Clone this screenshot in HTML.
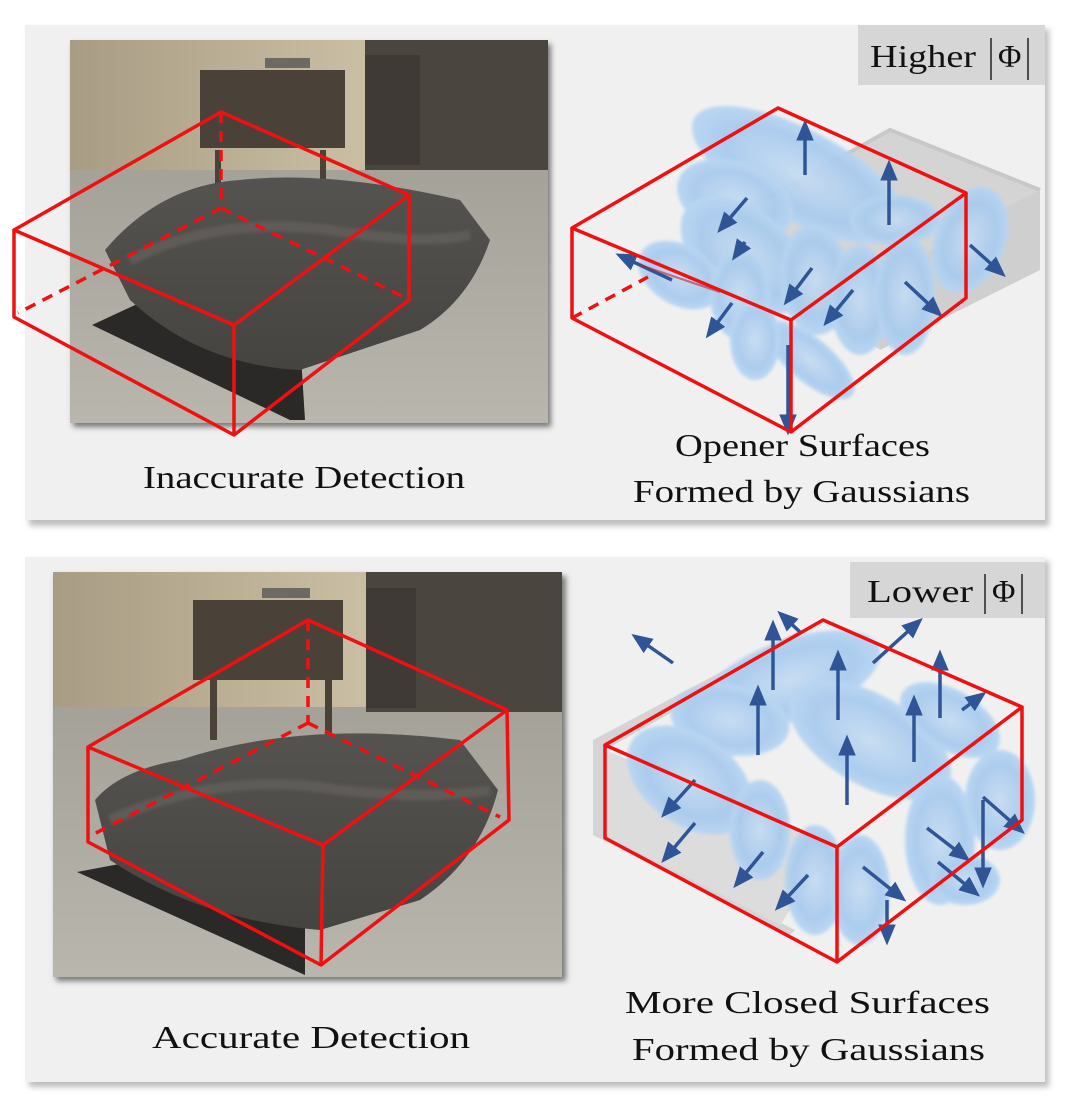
<!DOCTYPE html>
<html><head><meta charset="utf-8"><style>
html,body{margin:0;padding:0;background:#fff;}
svg{display:block;}
text{font-family:"Liberation Serif",serif;fill:#111;}
</style></head><body>
<svg width="1067" height="1104" viewBox="0 0 1067 1104" xmlns="http://www.w3.org/2000/svg">
<defs>
<filter id="sh" x="-5%" y="-5%" width="110%" height="115%"><feGaussianBlur stdDeviation="3"/></filter>
<filter id="bl" x="-20%" y="-20%" width="140%" height="140%"><feGaussianBlur stdDeviation="1.5"/></filter>
<radialGradient id="g" cx="50%" cy="50%" r="50%"><stop offset="0" stop-color="#c6dcf2"/><stop offset="0.7" stop-color="#a9cbee"/><stop offset="1" stop-color="#b7d5f3"/></radialGradient>
<marker id="ah" markerWidth="6" markerHeight="6" refX="3" refY="3" orient="auto"><path d="M0,0.5 L6,3 L0,5.5 z" fill="#2f5597"/></marker>
<linearGradient id="wall" x1="0" y1="0" x2="1" y2="0"><stop offset="0" stop-color="#a89c84"/><stop offset="0.6" stop-color="#c9bda3"/><stop offset="1" stop-color="#b3a88f"/></linearGradient>
<linearGradient id="floor" x1="0" y1="0" x2="0" y2="1"><stop offset="0" stop-color="#9a978f"/><stop offset="1" stop-color="#b9b6ae"/></linearGradient>
<linearGradient id="bag" x1="0" y1="0" x2="0" y2="1"><stop offset="0" stop-color="#555350"/><stop offset="1" stop-color="#464441"/></linearGradient>
</defs>

<rect x="29" y="29" width="1020" height="497" fill="#bdbdbd" filter="url(#sh)"/>
<rect x="25" y="25" width="1020" height="495" fill="#f0f0f0"/>
<rect x="29" y="561" width="1020" height="526" fill="#bdbdbd" filter="url(#sh)"/>
<rect x="25" y="557" width="1020" height="525" fill="#f0f0f0"/>

<!-- top photo -->
<g>
<rect x="73" y="44" width="478" height="383" fill="#777" filter="url(#sh)"/>
<rect x="70" y="40" width="478" height="383" fill="url(#floor)"/>
<rect x="70" y="40" width="478" height="130" fill="url(#wall)"/>
<rect x="365" y="40" width="183" height="130" fill="#4b4540"/>
<rect x="365" y="55" width="55" height="110" fill="#3f3a35"/>
<rect x="200" y="70" width="145" height="78" fill="#4a4138"/>
<rect x="265" y="58" width="45" height="10" fill="#6d6a66"/>
<rect x="215" y="150" width="6" height="55" fill="#4a4138"/>
<rect x="320" y="150" width="6" height="50" fill="#4a4138"/>
<path d="M92,325 L135,305 L300,340 L305,420 L290,420 Z" fill="#2a2927"/>
<path d="M105,250 Q160,185 240,180 Q330,170 460,200 L490,240 Q470,300 420,330 L300,370 Q200,365 130,300 Z" fill="url(#bag)"/>
<path d="M130,260 Q220,215 330,230 Q420,245 470,235" stroke="#5f5c58" stroke-width="10" fill="none" filter="url(#bl)"/>
</g>

<!-- bottom photo -->
<g>
<rect x="56" y="576" width="510" height="405" fill="#777" filter="url(#sh)"/>
<rect x="53" y="572" width="509" height="405" fill="url(#floor)"/>
<rect x="53" y="572" width="509" height="135" fill="url(#wall)"/>
<rect x="366" y="572" width="196" height="140" fill="#4b4540"/>
<rect x="366" y="588" width="50" height="120" fill="#3f3a35"/>
<rect x="193" y="600" width="150" height="80" fill="#4a4138"/>
<rect x="262" y="588" width="48" height="10" fill="#6d6a66"/>
<rect x="210" y="680" width="7" height="60" fill="#4a4138"/>
<rect x="325" y="680" width="7" height="55" fill="#4a4138"/>
<path d="M77,872 L130,862 L305,920 L305,975 Z" fill="#2a2927"/>
<path d="M95,800 Q120,770 180,760 Q300,720 460,740 L498,790 Q480,860 420,900 L320,930 Q200,920 110,860 Z" fill="url(#bag)"/>
<path d="M110,820 Q220,770 340,790 Q430,800 490,790" stroke="#5f5c58" stroke-width="10" fill="none" filter="url(#bl)"/>
</g>

<g stroke="#f01010" stroke-width="3.5" fill="none" stroke-linejoin="round">
<path d="M14,230 L221,112 L409,195 L234,325 Z"/>
<path d="M14,230 L14,317 L234,435 L409,300 L409,195"/>
<path d="M234,325 L234,435"/>
<path d="M221,112 L221,208 M221,208 L18,313 M221,208 L404,297" stroke-dasharray="11,8"/>
</g>

<g>
<path d="M700,235 L890,130 L1040,190 L1040,270 L880,350 L860,335 L700,260 Z" fill="#d4d4d4"/>
<path d="M700,235 L890,130 L1040,190" stroke="#c8c8c8" stroke-width="4" fill="none"/>
<path d="M880,350 L1040,270 L1040,190 L1000,210 L880,280 Z" fill="#cfcfcf"/>
</g>
<g filter="url(#bl)" fill="url(#g)" opacity="0.95">
<ellipse cx="800" cy="175" rx="120" ry="45" transform="rotate(28 800 175)"/>
<ellipse cx="735" cy="200" rx="60" ry="38" transform="rotate(20 735 200)"/>
<ellipse cx="745" cy="255" rx="75" ry="45" transform="rotate(40 745 255)"/>
<ellipse cx="895" cy="220" rx="45" ry="25"/>
<ellipse cx="815" cy="280" rx="35" ry="55" transform="rotate(-5 815 280)"/>
<ellipse cx="860" cy="300" rx="30" ry="55"/>
<ellipse cx="905" cy="295" rx="30" ry="60"/>
<ellipse cx="970" cy="240" rx="35" ry="55" transform="rotate(20 970 240)"/>
<ellipse cx="680" cy="275" rx="45" ry="30" transform="rotate(30 680 275)"/>
<ellipse cx="740" cy="295" rx="30" ry="45"/>
<ellipse cx="810" cy="360" rx="55" ry="22" transform="rotate(40 810 360)"/>
<ellipse cx="755" cy="340" rx="25" ry="40"/>
</g>
<g stroke="#2f5597" stroke-width="3.5" marker-end="url(#ah)">
<path d="M805,175 L805,130"/>
<path d="M889,225 L889,170"/>
<path d="M747,198 L724,225"/>
<path d="M745,242 L738,252"/>
<path d="M812,268 L790,297"/>
<path d="M853,290 L830,318"/>
<path d="M905,282 L935,310"/>
<path d="M970,245 L998,270"/>
<path d="M672,280 L625,258"/>
<path d="M732,303 L712,330"/>
<path d="M788,345 L788,425"/>
</g>
<path d="M640,265 L720,292" stroke="#c02030" stroke-width="2" opacity="0.6"/>
<g stroke="#f01010" stroke-width="3.5" fill="none" stroke-linejoin="round">
<path d="M572,228 L778,108 L966,193 L791,320 Z"/>
<path d="M572,228 L572,318 L791,432 L966,298 L966,193"/>
<path d="M791,320 L791,432"/>
<path d="M572,318 L648,277" stroke-dasharray="11,8"/>
</g>

<g stroke="#f01010" stroke-width="3.5" fill="none" stroke-linejoin="round">
<path d="M88,747 L308,620 L507,710 L323,845 Z"/>
<path d="M88,747 L88,842 L321,965 L509,820 L507,710"/>
<path d="M323,845 L321,965"/>
<path d="M308,620 L308,723 M308,723 L92,835 M308,723 L500,817" stroke-dasharray="11,8"/>
</g>

<g>
<path d="M593,740 L800,630 L800,640 L605,750 L605,835 L795,930 L790,935 L593,835 Z" fill="#d4d4d4"/>
<path d="M605,750 L605,835 L780,925 L810,880 L840,850 Z" fill="#dcdcdc"/>
</g>
<g filter="url(#bl)" fill="url(#g)" opacity="0.95">
<ellipse cx="790" cy="680" rx="95" ry="40" transform="rotate(-20 790 680)"/>
<ellipse cx="730" cy="720" rx="60" ry="35" transform="rotate(10 730 720)"/>
<ellipse cx="870" cy="740" rx="90" ry="45" transform="rotate(30 870 740)"/>
<ellipse cx="950" cy="720" rx="55" ry="30" transform="rotate(30 950 720)"/>
<ellipse cx="690" cy="780" rx="70" ry="45" transform="rotate(35 690 780)"/>
<ellipse cx="760" cy="830" rx="30" ry="50"/>
<ellipse cx="815" cy="880" rx="30" ry="55"/>
<ellipse cx="860" cy="890" rx="30" ry="55"/>
<ellipse cx="940" cy="840" rx="35" ry="65"/>
<ellipse cx="1000" cy="800" rx="35" ry="50"/>
<ellipse cx="965" cy="880" rx="35" ry="25"/>
</g>
<g stroke="#2f5597" stroke-width="3.5" marker-end="url(#ah)">
<path d="M773,690 L773,630"/>
<path d="M758,755 L758,695"/>
<path d="M838,720 L838,660"/>
<path d="M847,805 L847,745"/>
<path d="M914,762 L914,705"/>
<path d="M940,718 L940,660"/>
<path d="M673,663 L640,640"/>
<path d="M873,663 L915,625"/>
<path d="M800,632 L785,618"/>
<path d="M962,710 L978,698"/>
<path d="M695,780 L668,810"/>
<path d="M695,823 L668,855"/>
<path d="M763,852 L740,880"/>
<path d="M808,875 L782,903"/>
<path d="M863,867 L898,895"/>
<path d="M927,828 L962,855"/>
<path d="M938,862 L972,890"/>
<path d="M983,797 L1017,827"/>
<path d="M983,800 L983,878"/>
<path d="M887,900 L887,935"/>
</g>
<g stroke="#f01010" stroke-width="3.5" fill="none" stroke-linejoin="round">
<path d="M605,745 L823,620 L1022,707 L837,847 Z"/>
<path d="M605,745 L605,838 L837,962 L1022,820 L1022,707"/>
<path d="M837,847 L837,962"/>
</g>

<rect x="858" y="25" width="187" height="60" fill="#d6d6d6"/>
<text x="870" y="67" font-size="32" textLength="106" lengthAdjust="spacingAndGlyphs">Higher</text>
<line x1="991" y1="38" x2="991" y2="80" stroke="#222" stroke-width="1.5"/>
<text x="998" y="67" font-size="32">Φ</text>
<line x1="1028" y1="38" x2="1028" y2="80" stroke="#222" stroke-width="1.5"/>

<rect x="850" y="562" width="195" height="56" fill="#d6d6d6"/>
<text x="867" y="602" font-size="32" textLength="106" lengthAdjust="spacingAndGlyphs">Lower</text>
<line x1="985" y1="574" x2="985" y2="614" stroke="#222" stroke-width="1.5"/>
<text x="992" y="602" font-size="32">Φ</text>
<line x1="1022" y1="574" x2="1022" y2="614" stroke="#222" stroke-width="1.5"/>

<text x="143" y="488" font-size="32" textLength="322" lengthAdjust="spacingAndGlyphs">Inaccurate Detection</text>
<text x="675" y="456" font-size="32" textLength="255" lengthAdjust="spacingAndGlyphs">Opener Surfaces</text>
<text x="633" y="502" font-size="32" textLength="337" lengthAdjust="spacingAndGlyphs">Formed by Gaussians</text>
<text x="152" y="1048" font-size="32" textLength="318" lengthAdjust="spacingAndGlyphs">Accurate Detection</text>
<text x="625" y="1013" font-size="32" textLength="365" lengthAdjust="spacingAndGlyphs">More Closed Surfaces</text>
<text x="632" y="1060" font-size="32" textLength="353" lengthAdjust="spacingAndGlyphs">Formed by Gaussians</text>
</svg>
</body></html>
